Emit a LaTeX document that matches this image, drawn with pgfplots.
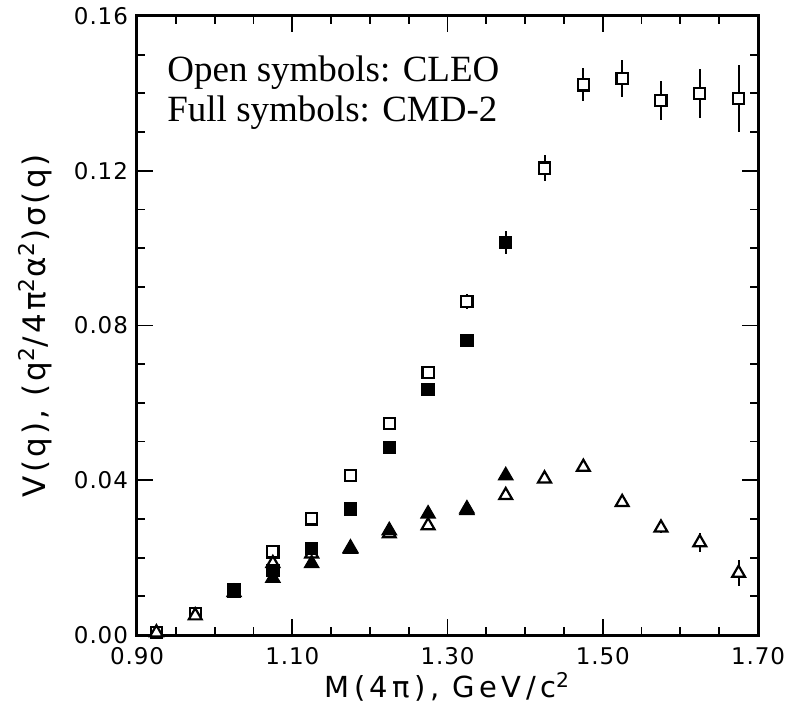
\documentclass[border=0pt]{standalone}
\usepackage{fontspec}
\setmainfont{DejaVu Sans}
\newfontfamily\tickfont[LetterSpace=4]{DejaVu Sans}
\newfontfamily\labfont[LetterSpace=10]{DejaVu Sans}
\newfontfamily\xlabfont[LetterSpace=15]{DejaVu Sans}
\newfontfamily\seriffont{Liberation Serif}
\usepackage{pgfplots}
\pgfplotsset{compat=1.18}
\begin{document}
\begin{tikzpicture}
\useasboundingbox (-68.5pt,-38.5pt) rectangle (332pt,317.5pt);
\begin{axis}[
  scale only axis, width=310.5pt, height=309.5pt,
  xmin=0.9, xmax=1.7, ymin=0, ymax=0.16,
  xtick={0.9,1.1,1.3,1.5,1.7}, minor x tick num=3,
  ytick={0,0.04,0.08,0.12,0.16}, minor y tick num=3,
  scaled ticks=false,
  tick align=inside,
  major tick length=8pt, minor tick length=4pt,
  every tick/.style={black, line width=0.9pt},
  axis line style={line width=1.5pt},
  /pgf/number format/.cd, fixed, fixed zerofill, precision=2, assume math mode=true,
  /pgfplots/.cd,
  tick label style={font=\tickfont\fontsize{11.5}{13}\selectfont},
  xticklabel style={inner sep=1pt, yshift=-5pt},
  yticklabel style={xshift=-1pt},
  xlabel={M(4π), GeV/c\textsuperscript{2}},
  ylabel={V(q), (q\textsuperscript{2}/4π\textsuperscript{2}α\textsuperscript{2})σ(q)},
  ylabel style={font=\labfont\fontsize{15.5}{18}\selectfont, at={(axis description cs:-0.1643,0.5)}, anchor=center, rotate=0},
  xlabel style={font=\xlabfont\fontsize{14.5}{17}\selectfont, at={(axis description cs:0.5,-0.1017)}, anchor=base, inner sep=0pt},
  clip=false,
  error bars/y dir=both, error bars/y explicit,
  error bars/error mark=none,
  error bars/error bar style={black, line width=1pt},
]
% CLEO open squares
\addplot[only marks, mark=square*, mark size=2.8pt, mark options={draw=black, fill=white, line width=1.1pt}]
coordinates {
(0.925,0.0006) +- (0,0.0003)
(0.975,0.0055) +- (0,0.0006)
(1.025,0.0118) +- (0,0.0005)
(1.075,0.0215) +- (0,0.0005)
(1.125,0.0300) +- (0,0.0005)
(1.175,0.0412) +- (0,0.0005)
(1.225,0.0546) +- (0,0.0006)
(1.275,0.0678) +- (0,0.0010)
(1.325,0.0862) +- (0,0.0020)
(1.375,0.1015) +- (0,0.0025)
(1.425,0.1207) +- (0,0.0034)
(1.475,0.1422) +- (0,0.0043)
(1.525,0.1438) +- (0,0.0047)
(1.575,0.1381) +- (0,0.0051)
(1.625,0.1400) +- (0,0.0064)
(1.675,0.1387) +- (0,0.0086)
};
% CLEO open triangles
\addplot[only marks, mark=triangle*, mark size=3.7pt, mark options={draw=black, fill=white, line width=1.1pt}]
coordinates {
(0.925,0.0006) +- (0,0.0003)
(0.975,0.0050) +- (0,0.0005)
(1.025,0.0110) +- (0,0.0005)
(1.075,0.0185) +- (0,0.0005)
(1.125,0.0210) +- (0,0.0005)
(1.175,0.0225) +- (0,0.0005)
(1.225,0.0262) +- (0,0.0005)
(1.275,0.0283) +- (0,0.0005)
(1.325,0.0322) +- (0,0.0005)
(1.375,0.0361) +- (0,0.0006)
(1.425,0.0404) +- (0,0.0007)
(1.475,0.0434) +- (0,0.0009)
(1.525,0.0343) +- (0,0.0010)
(1.575,0.0277) +- (0,0.0013)
(1.625,0.0239) +- (0,0.0025)
(1.675,0.0160) +- (0,0.0033)
};
% CMD-2 full squares
\addplot[only marks, mark=square*, mark size=2.8pt, mark options={draw=black, fill=black, line width=1.1pt}]
coordinates {
(1.025,0.0112) +- (0,0.0004)
(1.075,0.0166) +- (0,0.0005)
(1.125,0.0224) +- (0,0.0005)
(1.175,0.0326) +- (0,0.0006)
(1.225,0.0484) +- (0,0.0008)
(1.275,0.0634) +- (0,0.0010)
(1.325,0.0761) +- (0,0.0012)
(1.375,0.1015) +- (0,0.0029)
};
% CMD-2 full triangles
\addplot[only marks, mark=triangle*, mark size=3.7pt, mark options={draw=black, fill=black, line width=1.1pt}]
coordinates {
(1.075,0.0147) +- (0,0.0004)
(1.125,0.0185) +- (0,0.0005)
(1.175,0.0222) +- (0,0.0005)
(1.225,0.0270) +- (0,0.0006)
(1.275,0.0313) +- (0,0.0007)
(1.325,0.0326) +- (0,0.0007)
(1.375,0.0412) +- (0,0.0009)
};
\node[anchor=base west, font=\seriffont\fontsize{18.5}{22}\selectfont, inner sep=0pt] at (rel axis cs:0.0483,0.8934) {Open symbols: CLEO};
\node[anchor=base west, font=\seriffont\fontsize{18.5}{22}\selectfont, inner sep=0pt] at (rel axis cs:0.0483,0.8288) {Full symbols: CMD-2};
\end{axis}
\end{tikzpicture}
\end{document}
